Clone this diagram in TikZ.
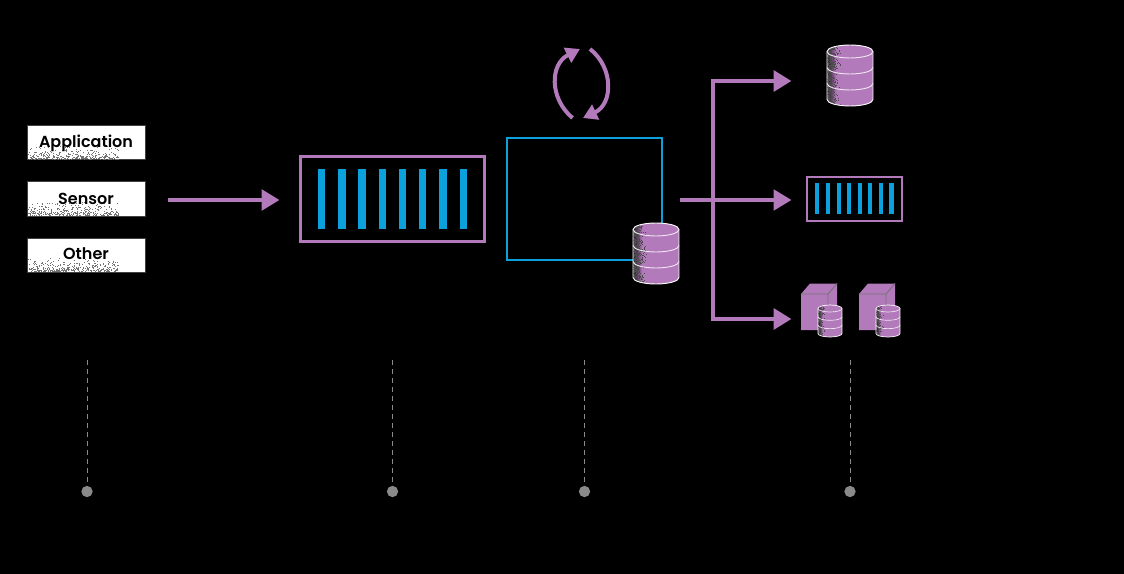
\documentclass[tikz,border=0pt]{standalone}
\usepackage{fontspec}
\setmainfont{Poppins}
\newfontfamily\labfont{Poppins SemiBold}
\usetikzlibrary{arrows.meta}
\definecolor{pur}{HTML}{B27ABB}
\definecolor{cy}{HTML}{0AA1DD}
\definecolor{grayd}{HTML}{8A8A8A}
\tikzset{
 x=0.75pt,y=-0.75pt,
 srcbox/.style={draw=black!75,line width=0.75pt,fill=white,minimum width=88.5pt,minimum height=25.5pt,inner sep=0pt},
 srclabel/.style={text=black,inner sep=0pt,font=\fontsize{12pt}{14pt}\labfont},
 flow/.style={draw=pur,line width=3pt,-{Triangle[length=13.5pt,width=15.5pt]}},
 thinflow/.style={draw=pur,line width=2.6pt,-{Triangle[length=13.5pt,width=15.5pt]}},
 cycle/.style={draw=pur,line width=3pt,-{Triangle[length=10.5pt,width=12pt]}},
 guide/.style={draw=grayd,line width=0.75pt,dash pattern=on 3.75pt off 3pt},
 dotend/.style={circle,fill=grayd,minimum size=8.5pt,inner sep=0pt},
 qframe/.style={draw=pur,fill=black,inner sep=0pt}
}
% speckle along bottom of a box: left x, bottom y
\newcommand{\boxgrain}[2]{%
 \foreach \i in {1,...,340}{%
  \pgfmathsetmacro{\gx}{#1+90*rnd}%
  \pgfmathsetmacro{\gy}{#2-15*rnd*rnd}%
  \fill[black!55] (\gx,\gy) rectangle ++(0.8,0.8);%
 }}
% cylinder: centre x, top y, width, height, ellipse ry, number of grain dots
\newcommand{\cylinder}[6]{%
 \begin{scope}
  \pgfmathsetmacro{\cl}{#1-#3/2}\pgfmathsetmacro{\cr}{#1+#3/2}
  \pgfmathsetmacro{\ct}{#2+#5}\pgfmathsetmacro{\cb}{#2+#4-#5}
  \pgfmathsetmacro{\rx}{#3/2}\pgfmathsetmacro{\bandgap}{(#4-2*#5)/3}
  \pgfmathsetmacro{\bw}{0.3+0.4*#3/46}
  \begin{scope}
   \clip (\cl,\ct) arc[start angle=180,end angle=0,x radius=\rx,y radius=-#5] -- (\cr,\cb) arc[start angle=0,end angle=-180,x radius=\rx,y radius=-#5] -- cycle;
   \fill[pur] (\cl,#2) rectangle (\cr,#2+#4);
   \shade[left color=black!85!pur,right color=pur] (\cl,#2) rectangle (\cl+0.2*#3,#2+#4);
   \foreach \i in {1,...,#6}{%
    \pgfmathsetmacro{\gx}{\cl+0.3*#3*rnd*rnd}%
    \pgfmathsetmacro{\gy}{#2+#4*rnd}%
    \fill[black!70] (\gx,\gy) rectangle ++(0.9,0.9);%
   }
  \end{scope}
  \draw[white,line width=\bw pt] (\cl,\ct) arc[start angle=180,end angle=0,x radius=\rx,y radius=-#5] -- (\cr,\cb) arc[start angle=0,end angle=-180,x radius=\rx,y radius=-#5] -- cycle;
  \foreach \k in {0,1,2}{%
   \pgfmathsetmacro{\by}{\ct+\k*\bandgap}%
   \draw[white!80!pur,line width=\bw pt] (\cl,\by) arc[start angle=180,end angle=360,x radius=\rx,y radius=-#5];%
  }
 \end{scope}}
% cube: front left x
\newcommand{\cube}[1]{%
 \fill[pur] (#1,294) -- (#1+9,283.5) -- (#1+36,283.5) -- (#1+36,319) -- (#1+27,330) -- (#1,330) -- cycle;
 \draw[black!55,line width=0.6pt] (#1,294) -- (#1+27,294) -- (#1+27,330) (#1+27,294) -- (#1+36,283.5);}
\begin{document}
\begin{tikzpicture}
\path[use as bounding box,fill=black] (0,0) rectangle (1124,574);
\pgfmathsetseed{4242}

% sources
\node[srcbox] (app) at (86,143) {};
\node[srcbox] (sens) at (86,199) {};
\node[srcbox] (oth) at (86,255) {};
\boxgrain{28}{159}\boxgrain{28}{215}\boxgrain{28}{271}
\node[srclabel] (appt) at (86,143) {Application};
\node[srclabel] (senst) at (86,198.5) {Sensor};
\node[srclabel] (otht) at (86,254) {Other};

% main queue
\node[qframe,line width=1.8pt,minimum width=138pt,minimum height=64pt] (queue) at (392.5,199) {};
\foreach \x in {318,338.2,358.4,378.6,398.8,419,439.4,459.6}
  \fill[cy] (\x,169) rectangle ++(7.4,60);

% processor
\node[draw=cy,line width=1.5pt,fill=black,minimum width=116pt,minimum height=91pt,inner sep=0pt] (proc) at (584.5,199) {};
\cylinder{656}{223}{46}{61}{6.5}{520}
\coordinate (store) at (656,253);

% cycle
\coordinate (c1s) at (572.5,118); \coordinate (c1e) at (580,49);
\coordinate (c2s) at (590,49); \coordinate (c2e) at (583,118);
\draw[cycle] (c1s) .. controls (549,98) and (550,64) .. (c1e);
\draw[cycle] (c2s) .. controls (614,68) and (613,104) .. (c2e);

% sinks
\cylinder{850}{45}{46}{61}{6.5}{520}
\node[qframe,line width=1.2pt,minimum width=71.5pt,minimum height=33pt] (smallq) at (854.5,199) {};
\foreach \x in {815,825.7,836.7,847,857.7,868,879,889.4}
  \fill[cy] (\x,183) rectangle ++(4.4,31);
\cube{801}\cube{859}
\cylinder{830}{305}{24}{32}{3.5}{130}
\cylinder{888}{305}{24}{32}{3.5}{130}

% connectors
\coordinate (srcout) at (168,200);
\coordinate (qin) at (279.5,200);
\draw[flow] (srcout) -- (qin);
\coordinate (procout) at (680,200);
\coordinate (t1) at (791.5,81);
\coordinate (t2) at (791.5,200);
\coordinate (t3) at (791.5,319);
\coordinate (bus) at (713,200);
\draw[thinflow] (procout) -- (t2);
\draw[flow,line width=3.6pt] (bus) -- (bus |- t1) -- (t1);
\draw[flow,line width=3.6pt] (bus) -- (bus |- t3) -- (t3);

% guides
\foreach \n/\x in {a/87,b/392.5,c/584.5,d/850}{
  \node[dotend] (dot\n) at (\x,491.5) {};
  \coordinate (top\n) at (\x,360);
  \draw[guide] (top\n) -- (dot\n);
}
\end{tikzpicture}
\end{document}
